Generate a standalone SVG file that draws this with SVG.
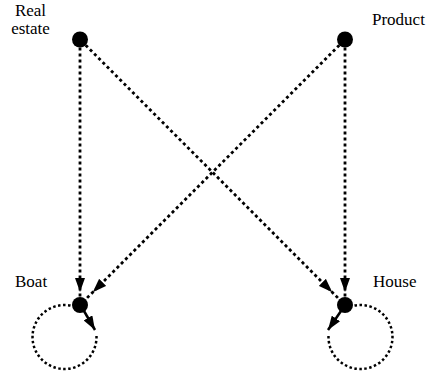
<svg xmlns="http://www.w3.org/2000/svg" width="429" height="373" viewBox="0 0 429 373">
<style>
.lbl{font-family:'Liberation Serif','Times New Roman',Times,serif;font-size:17px;fill:#000}
.node{fill:#000}
.edge{fill:none;stroke:#000;stroke-width:2.8;stroke-dasharray:3 3}
.loop{fill:none;stroke:#000;stroke-width:2.5;stroke-dasharray:2.5 2.5}
.stem{fill:none;stroke:#000;stroke-width:2.5}
</style>
<defs>
<marker id="arrowV" viewBox="0 0 14 10" markerWidth="14" markerHeight="10" refX="19" refY="5" orient="auto" markerUnits="userSpaceOnUse"><path d="M0,0 L14,5 L0,10 Z" fill="#000" stroke="none"/></marker>
<marker id="arrowD" viewBox="0 0 14 10" markerWidth="14" markerHeight="10" refX="24" refY="5" orient="auto" markerUnits="userSpaceOnUse"><path d="M0,0 L14,5 L0,10 Z" fill="#000" stroke="none"/></marker>
<marker id="arrowL" viewBox="0 0 14 10" markerWidth="14" markerHeight="10" refX="14" refY="5" orient="auto" markerUnits="userSpaceOnUse"><path d="M0,0 L14,5 L0,10 Z" fill="#000" stroke="none"/></marker>
</defs>
<g id="connectors">
<line class="edge" x1="80" y1="47.5" x2="80" y2="297" marker-end="url(#arrowV)"/>
<line class="edge" x1="345" y1="47.5" x2="345" y2="297" marker-end="url(#arrowV)"/>
<line class="edge" x1="85.7" y1="45.2" x2="339.3" y2="299.3" marker-end="url(#arrowD)"/>
<line class="edge" x1="339.3" y1="45.2" x2="85.7" y2="299.3" marker-end="url(#arrowD)"/>
<path class="stem" d="M84,311 L95,330" marker-end="url(#arrowL)"/>
<path class="loop" d="M96.5,336 A32 32 0 1 1 72.8,306.1"/>
<path class="stem" d="M341,311 L328,330" marker-end="url(#arrowL)"/>
<path class="loop" d="M328.5,336 A32 32 0 1 0 352.2,306.1"/>
</g>
<g id="node-real-estate">
<circle class="node" cx="80" cy="39.5" r="8"/>
<text class="lbl" x="30.5" y="16" text-anchor="middle" font-family="Liberation Serif, serif">Real</text>
<text class="lbl" x="30.5" y="34" text-anchor="middle" font-family="Liberation Serif, serif">estate</text>
</g>
<g id="node-product">
<circle class="node" cx="345" cy="39.5" r="8"/>
<text class="lbl" x="372" y="25" font-family="Liberation Serif, serif">Product</text>
</g>
<g id="node-boat">
<circle class="node" cx="80" cy="305" r="8"/>
<text class="lbl" x="15" y="287" font-family="Liberation Serif, serif">Boat</text>
</g>
<g id="node-house">
<circle class="node" cx="345" cy="305" r="8"/>
<text class="lbl" x="373" y="287" font-family="Liberation Serif, serif">House</text>
</g>
</svg>
